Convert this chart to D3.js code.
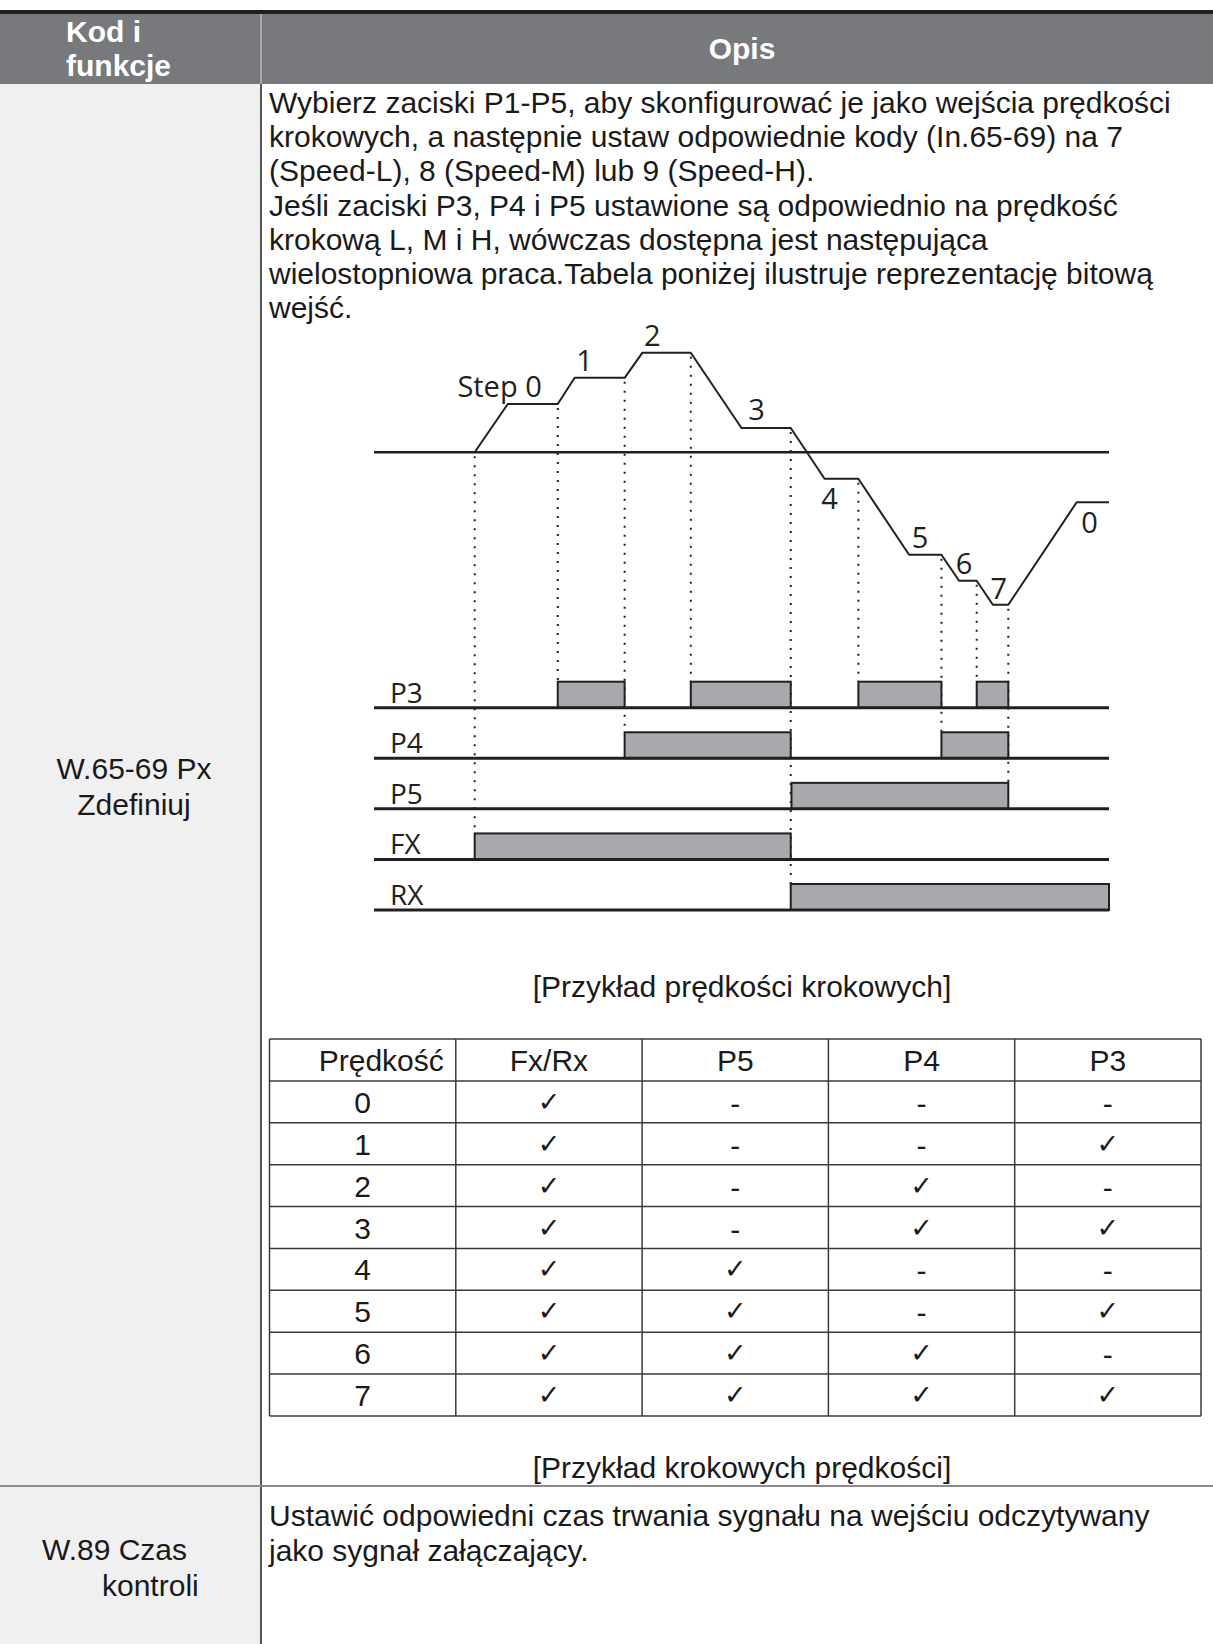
<!DOCTYPE html>
<html>
<head>
<meta charset="utf-8">
<script src="https://cdn.jsdelivr.net/npm/d3@7"></script>
<style>
  html, body { margin: 0; padding: 0; background: #fff; }
  svg text { font-family: "Liberation Sans", Arial, sans-serif; }
</style>
</head>
<body>
<svg id="page"></svg>
<script>
// ---- data ----

// speed profile: time (0..100) and speed level (+ forward, - reverse)
const profileT = [13.7, 18.2, 25.0, 27.3, 34.1, 36.5, 43.1, 50.0, 56.7, 61.3, 65.9, 72.8, 77.2, 79.6, 82.0, 84.2, 86.3, 95.6, 100];
const profileV = [0, 1.93, 1.93, 2.98, 2.98, 3.98, 3.98, 0.97, 0.97, -1.06, -1.06, -4.1, -4.1, -5.14, -5.14, -6.1, -6.1, -2.0, -2.0];

// step labels and the profile point where each plateau begins
const stepNames = ["Step 0", "1", "2", "3", "4", "5", "6", "7", "0"];
const stepStart = [1, 3, 5, 7, 9, 11, 13, 15, 17];

// input signals and their on-intervals (time units)
const signalNames = ["P3", "P4", "P5", "FX", "RX"];
const pulsesP3 = [[25.0, 34.1], [43.1, 56.7], [65.9, 77.2], [82.0, 86.3]];
const pulsesP4 = [[34.1, 56.7], [77.2, 86.3]];
const pulsesP5 = [[56.8, 86.3]];
const pulsesFX = [[13.7, 56.7]];
const pulsesRX = [[56.7, 100]];

// dotted guides: time, speed level where they start, signal row they end on
const guideT = [13.7, 25.0, 34.1, 43.1, 56.7, 65.9, 77.2, 82.0, 86.3];
const guideV = [0, 1.93, 2.98, 3.98, 0.97, -1.06, -4.1, -5.14, -6.1];
const guideTo = ["FX", "P3", "P4", "P3", "RX", "P3", "P4", "P3", "P5"];

// bit table
const tableHeads = ["Prędkość", "Fx/Rx", "P5", "P4", "P3"];
const speedSteps = [0, 1, 2, 3, 4, 5, 6, 7];
const fxrxOn = [1, 1, 1, 1, 1, 1, 1, 1];
const p5On = [0, 0, 0, 0, 1, 1, 1, 1];
const p4On = [0, 0, 1, 1, 0, 0, 1, 1];
const p3On = [0, 1, 0, 1, 0, 1, 0, 1];

// texts
const introLines = [
  "Wybierz zaciski P1-P5, aby skonfigurować je jako wejścia prędkości",
  "krokowych, a następnie ustaw odpowiednie kody (In.65-69) na 7",
  "(Speed-L), 8 (Speed-M) lub 9 (Speed-H).",
  "Jeśli zaciski P3, P4 i P5 ustawione są odpowiednio na prędkość",
  "krokową L, M i H, wówczas dostępna jest następująca",
  "wielostopniowa praca.Tabela poniżej ilustruje reprezentację bitową",
  "wejść."
];
const row2Lines = [
  "Ustawić odpowiedni czas trwania sygnału na wejściu odczytywany",
  "jako sygnał załączający."
];

// ---- page ----
const W = 1213, H = 1644;
const divX = 261, headTop = 13, headBot = 84, rowSep = 1486;

const svg = d3.select("#page").attr("width", W).attr("height", H);

// left column background
svg.append("rect").attr("x", 0).attr("y", headBot).attr("width", divX).attr("height", H - headBot)
  .attr("fill", "#f0f0f0");

// header
svg.append("rect").attr("x", 0).attr("y", headTop).attr("width", W).attr("height", headBot - headTop)
  .attr("fill", "#77797c");
svg.append("rect").attr("x", 0).attr("y", 10).attr("width", W).attr("height", 4).attr("fill", "#1e1e1e");
svg.append("line").attr("x1", divX).attr("x2", divX).attr("y1", 14).attr("y2", headBot)
  .attr("stroke", "#b8babd").attr("stroke-width", 1.5);

const hdr = svg.append("g").attr("fill", "#fff").attr("font-weight", "bold").attr("font-size", 30);
hdr.append("text").attr("x", 66).attr("y", 42).text("Kod i");
hdr.append("text").attr("x", 66).attr("y", 76).text("funkcje");
hdr.append("text").attr("x", 742).attr("y", 59).attr("text-anchor", "middle").text("Opis");

// column divider and row separator
svg.append("line").attr("x1", divX).attr("x2", divX).attr("y1", headBot).attr("y2", H)
  .attr("stroke", "#555").attr("stroke-width", 2);
svg.append("line").attr("x1", 0).attr("x2", W).attr("y1", rowSep).attr("y2", rowSep)
  .attr("stroke", "#8c8c8c").attr("stroke-width", 2);

const body = svg.append("g").attr("fill", "#1a1a1a").attr("font-size", 30);

// left column labels
body.append("text").attr("x", 134).attr("y", 779).attr("text-anchor", "middle").text("W.65-69 Px");
body.append("text").attr("x", 134).attr("y", 815).attr("text-anchor", "middle").text("Zdefiniuj");
body.append("text").attr("x", 42).attr("y", 1560).text("W.89 Czas");
body.append("text").attr("x", 102).attr("y", 1596).text("kontroli");

// paragraphs
body.selectAll("text.intro").data(introLines).join("text")
  .attr("class", "intro").attr("x", 269).attr("y", (d, i) => 113 + i * 34.2).text(d => d);
body.selectAll("text.row2").data(row2Lines).join("text")
  .attr("class", "row2").attr("x", 269).attr("y", (d, i) => 1526 + i * 35).text(d => d);

// captions
body.append("text").attr("x", 742).attr("y", 997).attr("text-anchor", "middle")
  .text("[Przykład prędkości krokowych]");
body.append("text").attr("x", 742).attr("y", 1478).attr("text-anchor", "middle")
  .text("[Przykład krokowych prędkości]");

// ---- timing diagram ----
const x = d3.scaleLinear().domain([0, 100]).range([374, 1109]);
const y = d3.scaleLinear().domain([0, 4]).range([452.3, 352.3]);
const rowY = d3.scalePoint().domain(signalNames).range([707.7, 910]);
const pulseH = 26;
const ink = "#231f20";

const diag = svg.append("g");
const diagFont = '"Open Sans", "Noto Sans", sans-serif';

// zero speed line
diag.append("line").attr("x1", x(0)).attr("x2", x(100)).attr("y1", y(0)).attr("y2", y(0))
  .attr("stroke", ink).attr("stroke-width", 2.5);

// dotted guides
const pulseMap = { P3: pulsesP3, P4: pulsesP4, P5: pulsesP5, FX: pulsesFX, RX: pulsesRX };
diag.selectAll("line.guide").data(guideT).join("line")
  .attr("class", "guide")
  .attr("x1", d => x(d)).attr("x2", d => x(d))
  .attr("y1", (d, i) => y(guideV[i]) + 4)
  .attr("y2", (d, i) => rowY(guideTo[i]) - pulseH)
  .attr("stroke", ink).attr("stroke-width", 2).attr("stroke-dasharray", "2,7");

// speed profile
const profile = d3.line().x(d => x(d[0])).y(d => y(d[1]));
diag.append("path").datum(d3.zip(profileT, profileV)).attr("d", profile)
  .attr("fill", "none").attr("stroke", ink).attr("stroke-width", 2).attr("stroke-linejoin", "round");

// step labels (offsets from the plateau start)
const stepOffset = [[34, -7, "end"], [10, -7, "middle"], [10, -7, "middle"], [15, -8, "middle"], [5, 30, "middle"],
  [11, -7, "middle"], [5, -7, "middle"], [6, -6, "middle"], [13, 31, "middle"]];
diag.selectAll("text.step").data(stepNames).join("text")
  .attr("class", "step")
  .attr("x", (d, i) => x(profileT[stepStart[i]]) + stepOffset[i][0])
  .attr("y", (d, i) => y(profileV[stepStart[i]]) + stepOffset[i][1])
  .attr("text-anchor", (d, i) => stepOffset[i][2])
  .style("font-family", diagFont).attr("font-size", 29).attr("fill", ink)
  .text(d => d);

// signal rows
const rows = diag.selectAll("g.sig").data(signalNames).join("g").attr("class", "sig");
rows.selectAll("rect").data(s => pulseMap[s].map(p => ({ s, p }))).join("rect")
  .attr("x", d => x(d.p[0])).attr("width", d => x(d.p[1]) - x(d.p[0]))
  .attr("y", d => rowY(d.s) - pulseH).attr("height", pulseH)
  .attr("fill", "#a7a9ac").attr("stroke", ink).attr("stroke-width", 2);
rows.append("line").attr("x1", x(0)).attr("x2", x(100))
  .attr("y1", s => rowY(s)).attr("y2", s => rowY(s))
  .attr("stroke", ink).attr("stroke-width", 3);
rows.append("text").attr("x", 390).attr("y", s => rowY(s) - 5)
  .style("font-family", diagFont).attr("font-size", 28).attr("fill", ink)
  .text(s => s);

// ---- bit table ----
const colX = d3.scaleBand().domain(tableHeads).range([269.5, 1201]);
const rowKeys = ["head"].concat(speedSteps);
const rowB = d3.scaleBand().domain(rowKeys).range([1039, 1416]);
const cellOn = [fxrxOn, p5On, p4On, p3On];

const tbl = svg.append("g");
tbl.selectAll("line.h").data(rowKeys.concat(["end"])).join("line").attr("class", "h")
  .attr("x1", colX.range()[0]).attr("x2", colX.range()[1])
  .attr("y1", (d, i) => rowB.range()[0] + i * rowB.bandwidth())
  .attr("y2", (d, i) => rowB.range()[0] + i * rowB.bandwidth())
  .attr("stroke", "#3a3a3a").attr("stroke-width", 1.5);
tbl.selectAll("line.v").data(tableHeads.concat(["end"])).join("line").attr("class", "v")
  .attr("x1", (d, i) => colX.range()[0] + i * colX.bandwidth())
  .attr("x2", (d, i) => colX.range()[0] + i * colX.bandwidth())
  .attr("y1", rowB.range()[0]).attr("y2", rowB.range()[1])
  .attr("stroke", "#3a3a3a").attr("stroke-width", 1.5);

const tt = tbl.append("g").attr("fill", "#1a1a1a").attr("font-size", 30).attr("text-anchor", "middle");
tt.selectAll("text.head").data(tableHeads).join("text").attr("class", "head")
  .attr("x", (d, i) => i === 0 ? colX(d) + colX.bandwidth() - 12 : colX(d) + colX.bandwidth() / 2)
  .attr("text-anchor", (d, i) => i === 0 ? "end" : "middle")
  .attr("y", rowB("head") + rowB.bandwidth() / 2 + 11).text(d => d);
tt.selectAll("text.step").data(speedSteps).join("text").attr("class", "step")
  .attr("x", colX(tableHeads[0]) + colX.bandwidth() / 2)
  .attr("y", d => rowB(d) + rowB.bandwidth() / 2 + 11).text(d => d);

tableHeads.slice(1).forEach((h, c) => {
  tt.selectAll("text.c" + c).data(speedSteps).join("text").attr("class", "c" + c)
    .attr("x", colX(h) + colX.bandwidth() / 2)
    .attr("y", d => rowB(d) + rowB.bandwidth() / 2 + (cellOn[c][d] ? 9 : 12))
    .style("font-family", d => cellOn[c][d] ? '"DejaVu Sans", sans-serif' : null)
    .attr("font-size", d => cellOn[c][d] ? 27 : 30)
    .text(d => cellOn[c][d] ? "✓" : "-");
});
</script>
</body>
</html>
